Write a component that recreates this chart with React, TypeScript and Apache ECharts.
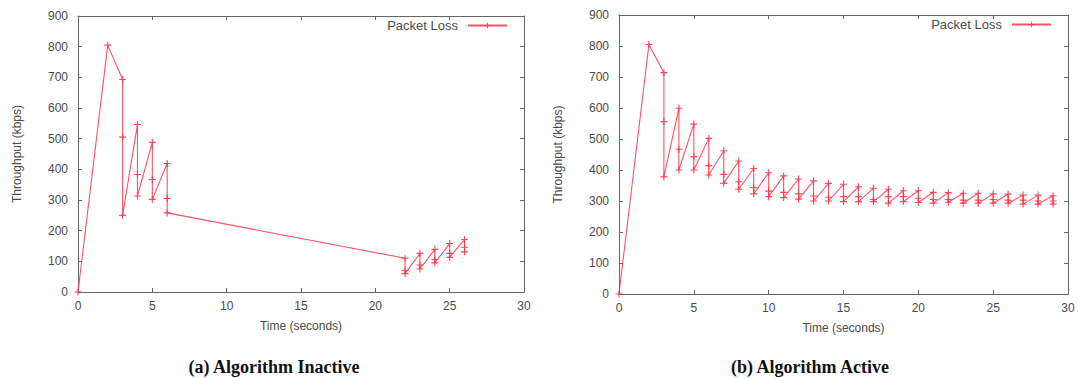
import React, { useEffect, useRef } from "react";
import * as echarts from "echarts";

// Left panel: Algorithm Inactive (time s, throughput kbps)
const inactiveTime = [0, 2, 3, 3, 3, 4, 4, 4, 5, 5, 5, 6, 6, 6, 22, 22, 22, 23, 23, 23, 24, 24, 24, 25, 25, 25, 26, 26, 26];
const inactiveThroughput = [0, 805, 693, 505, 250, 546, 383, 313, 488, 367, 302, 419, 305, 258, 110, 70, 60, 126, 88, 75, 139, 106, 95, 158, 126, 113, 171, 146, 131];

// Right panel: Algorithm Active
const activeTime = [
  0, 2, 3, 3, 3, 4, 4, 4, 5, 5, 5, 6, 6, 6, 7, 7, 7, 8, 8, 8, 9, 9, 9, 10, 10, 10,
  11, 11, 11, 12, 12, 12, 13, 13, 13, 14, 14, 14, 15, 15, 15, 16, 16, 16, 17, 17, 17,
  18, 18, 18, 19, 19, 19, 20, 20, 20, 21, 21, 21, 22, 22, 22, 23, 23, 23, 24, 24, 24,
  25, 25, 25, 26, 26, 26, 27, 27, 27, 28, 28, 28, 29, 29, 29,
];
const activeThroughput = [
  0, 805, 714, 556, 378, 599, 467, 400, 548, 443, 400, 502, 414, 384, 462, 386, 357, 429, 362, 338, 405, 343, 323, 391, 332, 314,
  381, 328, 311, 371, 323, 306, 365, 316, 300, 357, 312, 300, 354, 314, 298, 346, 314, 298, 341, 305, 298,
  338, 314, 293, 333, 314, 298, 333, 309, 295, 328, 305, 293, 327, 305, 296, 325, 303, 293, 325, 303, 293,
  323, 305, 293, 322, 303, 293, 319, 303, 290, 319, 300, 290, 317, 300, 290,
];

const xTicks = { min: 0, max: 30, interval: 5 };
const yTicks = { min: 0, max: 900, interval: 100 };

const seriesName = "Packet Loss";
const captions = ["(a) Algorithm Inactive", "(b) Algorithm Active"];
const xName = "Time (seconds)";
const yName = "Throughput (kbps)";

const RED = "#ff3348";
const AXIS = "#666";
const TEXT = "#4a4a4a";
const FONT = "'Liberation Sans', Arial, sans-serif";
const CROSS = "path://M4.2,0H5.8V4.2H10V5.8H5.8V10H4.2V5.8H0V4.2H4.2Z";

function pairs(xs: number[], ys: number[]) {
  return xs.map((x, i) => [x, ys[i]]);
}

export default function App() {
  const ref = useRef<HTMLDivElement>(null);
  useEffect(() => {
    document.body.style.margin = "0";
    if (!ref.current) return;
    const chart = echarts.init(ref.current, undefined, { renderer: "svg" });

    const grids = [
      { left: 78, top: 16, width: 446, height: 276 },
      { left: 619, top: 15, width: 449, height: 279 },
    ];

    const xAxes: any[] = [];
    const yAxes: any[] = [];
    grids.forEach((_, g) => {
      xAxes.push({
        type: "value", gridIndex: g, position: "bottom", ...xTicks,
        name: xName, nameLocation: "middle", nameGap: 28,
        nameTextStyle: { color: TEXT, fontFamily: FONT, fontSize: 12 },
        axisLine: { show: true, onZero: false, lineStyle: { color: AXIS, width: 1 } },
        axisTick: { show: true, inside: true, length: 4, lineStyle: { color: AXIS } },
        axisLabel: { color: TEXT, fontFamily: FONT, fontSize: 12, margin: 8 },
        splitLine: { show: false },
      });
      xAxes.push({
        type: "value", gridIndex: g, position: "top", ...xTicks,
        axisLine: { show: true, onZero: false, lineStyle: { color: AXIS, width: 1 } },
        axisTick: { show: true, inside: true, length: 4, lineStyle: { color: AXIS } },
        axisLabel: { show: false },
        splitLine: { show: false },
      });
      yAxes.push({
        type: "value", gridIndex: g, position: "left", ...yTicks,
        name: yName, nameLocation: "middle", nameGap: 55, nameRotate: 90,
        nameTextStyle: { color: TEXT, fontFamily: FONT, fontSize: 12 },
        axisLine: { show: true, onZero: false, lineStyle: { color: AXIS, width: 1 } },
        axisTick: { show: true, inside: true, length: 4, lineStyle: { color: AXIS } },
        axisLabel: { color: TEXT, fontFamily: FONT, fontSize: 12, margin: 10 },
        splitLine: { show: false },
      });
      yAxes.push({
        type: "value", gridIndex: g, position: "right", ...yTicks,
        axisLine: { show: true, onZero: false, lineStyle: { color: AXIS, width: 1 } },
        axisTick: { show: true, inside: true, length: 4, lineStyle: { color: AXIS } },
        axisLabel: { show: false },
        splitLine: { show: false },
      });
    });

    const mkSeries = (data: number[][], idx: number) => ({
      type: "line",
      name: seriesName,
      xAxisIndex: idx * 2,
      yAxisIndex: idx * 2,
      data,
      symbol: CROSS,
      symbolSize: 7,
      showAllSymbol: true,
      lineStyle: { color: RED, width: 1.1, opacity: 0.85 },
      itemStyle: { color: RED, opacity: 0.9 },
      emphasis: { disabled: true },
    });

    const legendCommon = {
      data: [seriesName],
      align: "right",
      orient: "horizontal",
      padding: 0,
      itemWidth: 39,
      itemHeight: 7,
      selectedMode: false,
      textStyle: { color: TEXT, fontFamily: FONT, fontSize: 13, padding: [0, 5, 0, 0] },
    };

    chart.setOption({
      animation: false,
      backgroundColor: "#fff",
      grid: grids,
      xAxis: xAxes,
      yAxis: yAxes,
      legend: [
        { ...legendCommon, right: 570, top: 19 },
        { ...legendCommon, right: 26, top: 18 },
      ],
      series: [
        mkSeries(pairs(inactiveTime, inactiveThroughput), 0),
        mkSeries(pairs(activeTime, activeThroughput), 1),
      ],
      graphic: [
        {
          type: "text", x: 274, y: 367,
          style: { text: captions[0], font: "bold 18px 'Liberation Serif', 'Times New Roman', serif", fill: "#111", align: "center", verticalAlign: "middle" },
        },
        {
          type: "text", x: 810, y: 367,
          style: { text: captions[1], font: "bold 18px 'Liberation Serif', 'Times New Roman', serif", fill: "#111", align: "center", verticalAlign: "middle" },
        },
      ],
    });
    return () => chart.dispose();
  }, []);
  return <div ref={ref} style={{ width: 1078, height: 378 }} />;
}
